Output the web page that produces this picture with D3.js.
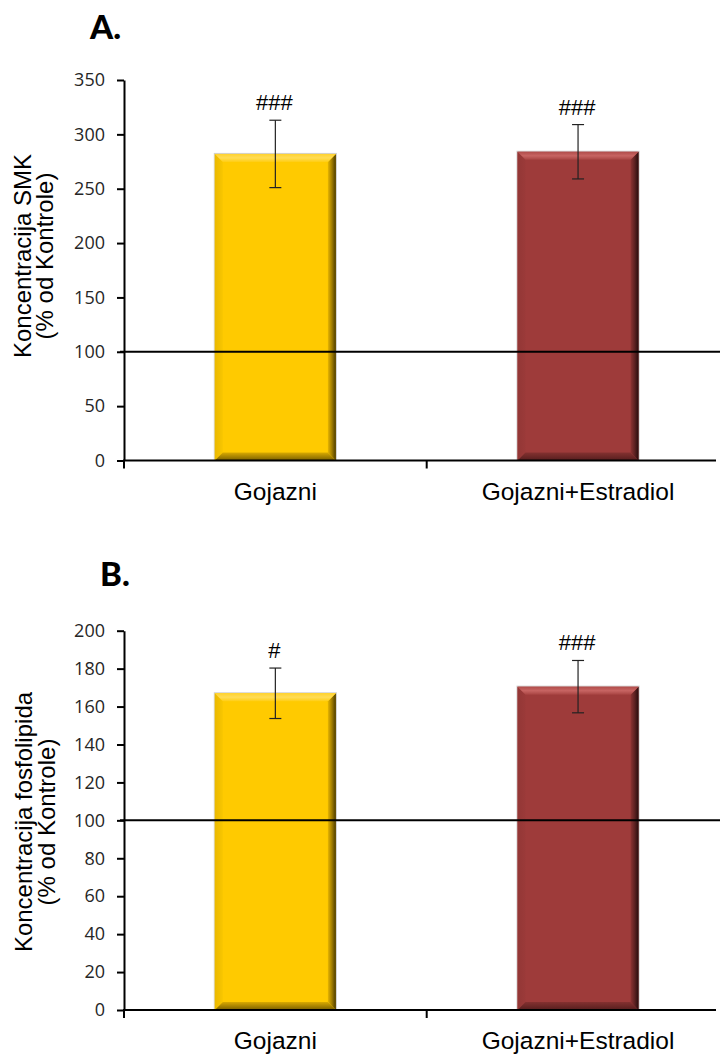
<!DOCTYPE html>
<html>
<head>
<meta charset="utf-8">
<script src="https://cdn.jsdelivr.net/npm/d3@7"></script>
<style>
  html, body { margin: 0; padding: 0; background: #fff; }
  svg { display: block; }
</style>
</head>
<body>
<svg id="chart" width="720" height="1054"></svg>
<script>
// Groups on the x axis
const categories = ["Gojazni", "Gojazni+Estradiol"];

// Panel A: SMK concentration, % of control
const smkMean = [282, 284];
const smkSem = [31, 25];
const smkMarks = ["###", "###"];
const smkTicks = [0, 50, 100, 150, 200, 250, 300, 350];

// Panel B: phospholipid concentration, % of control
const fosMean = [167, 170.5];
const fosSem = [13.3, 13.8];
const fosMarks = ["#", "###"];
const fosTicks = [0, 20, 40, 60, 80, 100, 120, 140, 160, 180, 200];

// Control level drawn as a horizontal reference line
const controlLevel = 100;

const barColors = ["#FFCA00", "#9E3B3A"];

// Bevel shading per bar colour: top highlight, right shadow, bottom shadow, left edge
const bevelShades = [
  { top: ["#FFD22E", "#FFDC55", "#FFCE14"], right: ["#E6B400", "#A07C00", "#4A3A00"],
    bottom: ["#D9AA00", "#7A6000"], left: ["#EBB900", "#F8C600"] },
  { top: ["#B04C4A", "#C76462", "#A84442"], right: ["#8C3332", "#5E2222", "#260C0C"],
    bottom: ["#843130", "#561E1E"], left: ["#933736", "#9B3A39"] }
];

const svg = d3.select("#chart");
const defs = svg.append("defs");

bevelShades.forEach((s, i) => {
  const mk = (id, x2, y2, cols) => {
    const g = defs.append("linearGradient").attr("id", id)
      .attr("x1", 0).attr("y1", 0).attr("x2", x2).attr("y2", y2);
    cols.forEach((col, k) => g.append("stop")
      .attr("offset", cols.length === 1 ? 0 : k / (cols.length - 1)).attr("stop-color", col));
  };
  mk("top" + i, 0, 1, s.top);
  mk("right" + i, 1, 0, s.right);
  mk("bottom" + i, 0, 1, s.bottom);
  mk("left" + i, 1, 0, s.left);
});

function drawPanel(cfg) {
  const { means, sems, marks, ticks, yMax, top, bottom, letter, letterX, letterY, titleLines, titleY, titleX } = cfg;
  const left = 124, right = 729.4;

  const x = d3.scaleBand().domain(categories).range([left, right])
    .paddingInner(0.6).paddingOuter(0.3);
  const y = d3.scaleLinear().domain([0, yMax]).range([bottom, top]);

  const g = svg.append("g");

  // Panel letter
  g.append("text").attr("x", letterX).attr("y", letterY)
    .attr("font-family", "Lato, 'Open Sans', sans-serif").attr("font-weight", 900)
    .attr("font-size", 33).attr("fill", "#000").text(letter);

  // Y axis title (two lines, rotated)
  titleLines.forEach((t, i) => {
    g.append("text")
      .attr("transform", `translate(${titleX[i]},${titleY}) rotate(-90)`)
      .attr("text-anchor", "middle")
      .attr("font-family", "'Liberation Sans', Arial, sans-serif")
      .attr("font-size", 24).attr("fill", "#000").text(t);
  });

  // Bars with bevelled edges
  const b = 8;
  categories.forEach((c, i) => {
    const x0 = x(c), x1 = x(c) + x.bandwidth();
    const y0 = y(means[i]), y1 = y(0);
    const bar = g.append("g");
    bar.append("rect").attr("x", x0 - 0.5).attr("y", y0 - 0.5)
      .attr("width", x1 - x0 + 1).attr("height", y1 - y0 + 0.5)
      .attr("fill", "none").attr("stroke", "#cfcfcf").attr("stroke-width", 1);
    bar.append("rect").attr("x", x0).attr("y", y0)
      .attr("width", x1 - x0).attr("height", y1 - y0).attr("fill", barColors[i]);
    const poly = (pts, fill) => bar.append("polygon")
      .attr("points", pts.map(p => p.join(",")).join(" ")).attr("fill", fill);
    poly([[x0, y0], [x0 + b, y0 + b], [x0 + b, y1 - b], [x0, y1]], `url(#left${i})`);
    poly([[x0, y1], [x0 + b, y1 - b], [x1 - b, y1 - b], [x1, y1]], `url(#bottom${i})`);
    poly([[x1, y0], [x1, y1], [x1 - b, y1 - b], [x1 - b, y0 + b]], `url(#right${i})`);
    poly([[x0, y0], [x1, y0], [x1 - b, y0 + b], [x0 + b, y0 + b]], `url(#top${i})`);
  });

  // Error bars and significance marks
  categories.forEach((c, i) => {
    const cx = x(c) + x.bandwidth() / 2;
    const yHi = y(means[i] + sems[i]), yLo = y(means[i] - sems[i]);
    const eg = g.append("g").attr("stroke", "#222").attr("stroke-width", 1.2);
    eg.append("line").attr("x1", cx).attr("x2", cx).attr("y1", yHi).attr("y2", yLo);
    eg.append("line").attr("x1", cx - 6).attr("x2", cx + 6).attr("y1", yHi).attr("y2", yHi);
    eg.append("line").attr("x1", cx - 6).attr("x2", cx + 6).attr("y1", yLo).attr("y2", yLo);
    g.append("text").attr("x", cx - 1).attr("y", yHi - 10)
      .attr("text-anchor", "middle")
      .attr("font-family", "'Liberation Sans', Arial, sans-serif")
      .attr("font-size", 22).attr("fill", "#000").text(marks[i]);
  });

  // Reference line at control level
  g.append("line").attr("x1", left - 4).attr("x2", 720)
    .attr("y1", y(controlLevel)).attr("y2", y(controlLevel))
    .attr("stroke", "#000").attr("stroke-width", 2);

  // Y axis
  const yAxis = g.append("g").attr("transform", `translate(${left},0)`)
    .call(d3.axisLeft(y).tickValues(ticks).tickSize(7).tickPadding(12).tickSizeOuter(0));
  yAxis.select(".domain").attr("stroke", "#000").attr("stroke-width", 2);
  yAxis.selectAll(".tick line").attr("stroke", "#000").attr("stroke-width", 2);
  yAxis.selectAll(".tick text")
    .attr("font-family", "'Open Sans', sans-serif").attr("font-size", 18).attr("fill", "#262626");

  // X axis: baseline, boundary ticks and category labels
  g.append("line").attr("x1", left - 1).attr("x2", 716).attr("y1", y(0)).attr("y2", y(0))
    .attr("stroke", "#000").attr("stroke-width", 2);
  const half = x.step() * x.paddingInner() / 2;
  const bounds = categories.map(c => x(c) - half);
  g.selectAll(null).data(bounds).enter().append("line")
    .attr("x1", d => d).attr("x2", d => d)
    .attr("y1", y(0)).attr("y2", y(0) + 8)
    .attr("stroke", "#000").attr("stroke-width", 2);
  g.selectAll(null).data(categories).enter().append("text")
    .attr("x", d => x(d) + x.bandwidth() / 2).attr("y", y(0) + 39)
    .attr("text-anchor", "middle")
    .attr("font-family", "'Liberation Sans', Arial, sans-serif")
    .attr("font-size", 24.5).attr("fill", "#000").text(d => d);
}

drawPanel({
  means: smkMean, sems: smkSem, marks: smkMarks, ticks: smkTicks, yMax: 350,
  top: 80, bottom: 460.5,
  letter: "A.", letterX: 90, letterY: 39,
  titleLines: ["Koncentracija SMK", "(% od Kontrole)"], titleX: [31, 53], titleY: 256
});

drawPanel({
  means: fosMean, sems: fosSem, marks: fosMarks, ticks: fosTicks, yMax: 200,
  top: 630.7, bottom: 1010,
  letter: "B.", letterX: 100, letterY: 586,
  titleLines: ["Koncentracija fosfolipida", "(% od Kontrole)"], titleX: [32, 55], titleY: 822
});
</script>
</body>
</html>
